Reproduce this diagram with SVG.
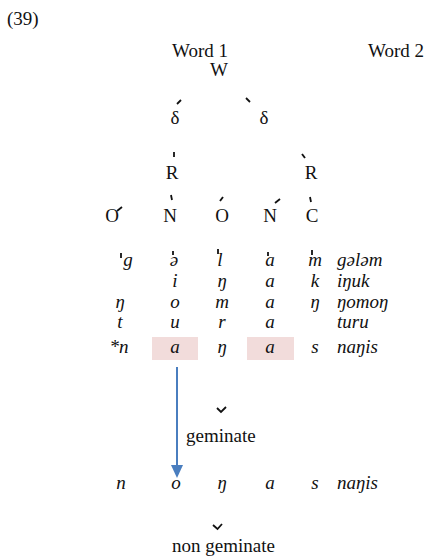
<svg xmlns="http://www.w3.org/2000/svg" width="424" height="556" viewBox="0 0 424 556">
<style>
text{font-family:'Liberation Serif','DejaVu Serif',serif;fill:#111;font-size:19px}
.i{font-style:italic}
.m{text-anchor:middle}
.t{stroke:#111;stroke-width:1.8;stroke-linecap:butt;fill:none}
.box{fill:#f2dcdb}
</style>
<rect width="424" height="556" fill="#fff"/>
<g id="label-39"><text x="7" y="25">(39)</text></g>
<g id="word1"><text x="200" y="57" class="m">Word 1</text></g>
<g id="word2"><text x="396" y="57" class="m">Word 2</text></g>
<g id="W"><text x="219" y="76" class="m">W</text></g>
<g id="delta1"><text x="175" y="124" class="m">δ</text></g>
<g id="delta2"><text x="264" y="124" class="m">δ</text></g>
<g id="R1"><text x="172" y="179" class="m">R</text></g>
<g id="R2"><text x="311" y="179" class="m">R</text></g>
<g id="O1"><text x="112" y="222" class="m">O</text></g>
<g id="N1"><text x="170" y="222" class="m">N</text></g>
<g id="O2"><text x="222" y="222" class="m">O</text></g>
<g id="N2"><text x="270" y="222" class="m">N</text></g>
<g id="C"><text x="312" y="222" class="m">C</text></g>
<g id="highlights">
<rect class="box" x="152" y="337" width="46" height="23"/>
<rect class="box" x="247" y="337" width="47" height="23"/>
</g>
<g id="rows">
<text class="i m" x="128" y="266">g</text>
<text class="i m" x="174" y="266">ə</text>
<text class="i m" x="220" y="266">l</text>
<text class="i m" x="270" y="266">a</text>
<text class="i m" x="315" y="266">m</text>
<text class="i" x="337" y="266">gələm</text>
<text class="i m" x="175" y="287">i</text>
<text class="i m" x="222" y="287">ŋ</text>
<text class="i m" x="270" y="287">a</text>
<text class="i m" x="315" y="287">k</text>
<text class="i" x="337" y="287">iŋuk</text>
<text class="i m" x="120" y="308">ŋ</text>
<text class="i m" x="175" y="308">o</text>
<text class="i m" x="222" y="308">m</text>
<text class="i m" x="270" y="308">a</text>
<text class="i m" x="315" y="308">ŋ</text>
<text class="i" x="337" y="308">ŋomoŋ</text>
<text class="i m" x="120" y="328">t</text>
<text class="i m" x="175" y="328">u</text>
<text class="i m" x="222" y="328">r</text>
<text class="i m" x="270" y="328">a</text>
<text class="i" x="337" y="328">turu</text>
<text class="i m" x="119" y="353">*n</text>
<text class="i m" x="175" y="353">a</text>
<text class="i m" x="222" y="353">ŋ</text>
<text class="i m" x="270" y="353">a</text>
<text class="i m" x="315" y="353">s</text>
<text class="i" x="337" y="353">naŋis</text>
<text class="i m" x="121" y="489">n</text>
<text class="i m" x="176" y="489">o</text>
<text class="i m" x="222" y="489">ŋ</text>
<text class="i m" x="270" y="489">a</text>
<text class="i m" x="315" y="489">s</text>
<text class="i" x="337" y="489">naŋis</text>
</g>
<g id="geminate"><text x="186" y="442">geminate</text></g>
<g id="nongeminate"><text x="172" y="552">non geminate</text></g>
<g id="connectors">
<line class="t" x1="177" y1="104" x2="181" y2="100"/>
<line class="t" x1="246" y1="98" x2="250" y2="102"/>
<line class="t" x1="174" y1="152" x2="174" y2="157"/>
<line class="t" x1="302" y1="154" x2="305" y2="158"/>
<line class="t" x1="117" y1="211" x2="122" y2="207"/>
<line class="t" x1="171" y1="195" x2="172" y2="200"/>
<line class="t" x1="220" y1="201" x2="223" y2="197"/>
<line class="t" x1="275" y1="203" x2="280" y2="199"/>
<line class="t" x1="310" y1="197" x2="311" y2="202"/>
<line class="t" x1="121" y1="253" x2="121" y2="258"/>
<line class="t" x1="173" y1="251" x2="173" y2="255"/>
<line class="t" x1="218" y1="249" x2="218" y2="254"/>
<line class="t" x1="268" y1="252" x2="268" y2="256"/>
<line class="t" x1="312" y1="250" x2="312" y2="255"/>
<polyline class="t" points="217,408 221,412 226,407"/>
<polyline class="t" points="213,525 217.5,529 222,524"/>
<line x1="177" y1="367" x2="177" y2="466" stroke="#4a7ebf" stroke-width="2"/>
<polygon points="171,465 183,465 177,478" fill="#4a7ebf"/>
</g>
</svg>
